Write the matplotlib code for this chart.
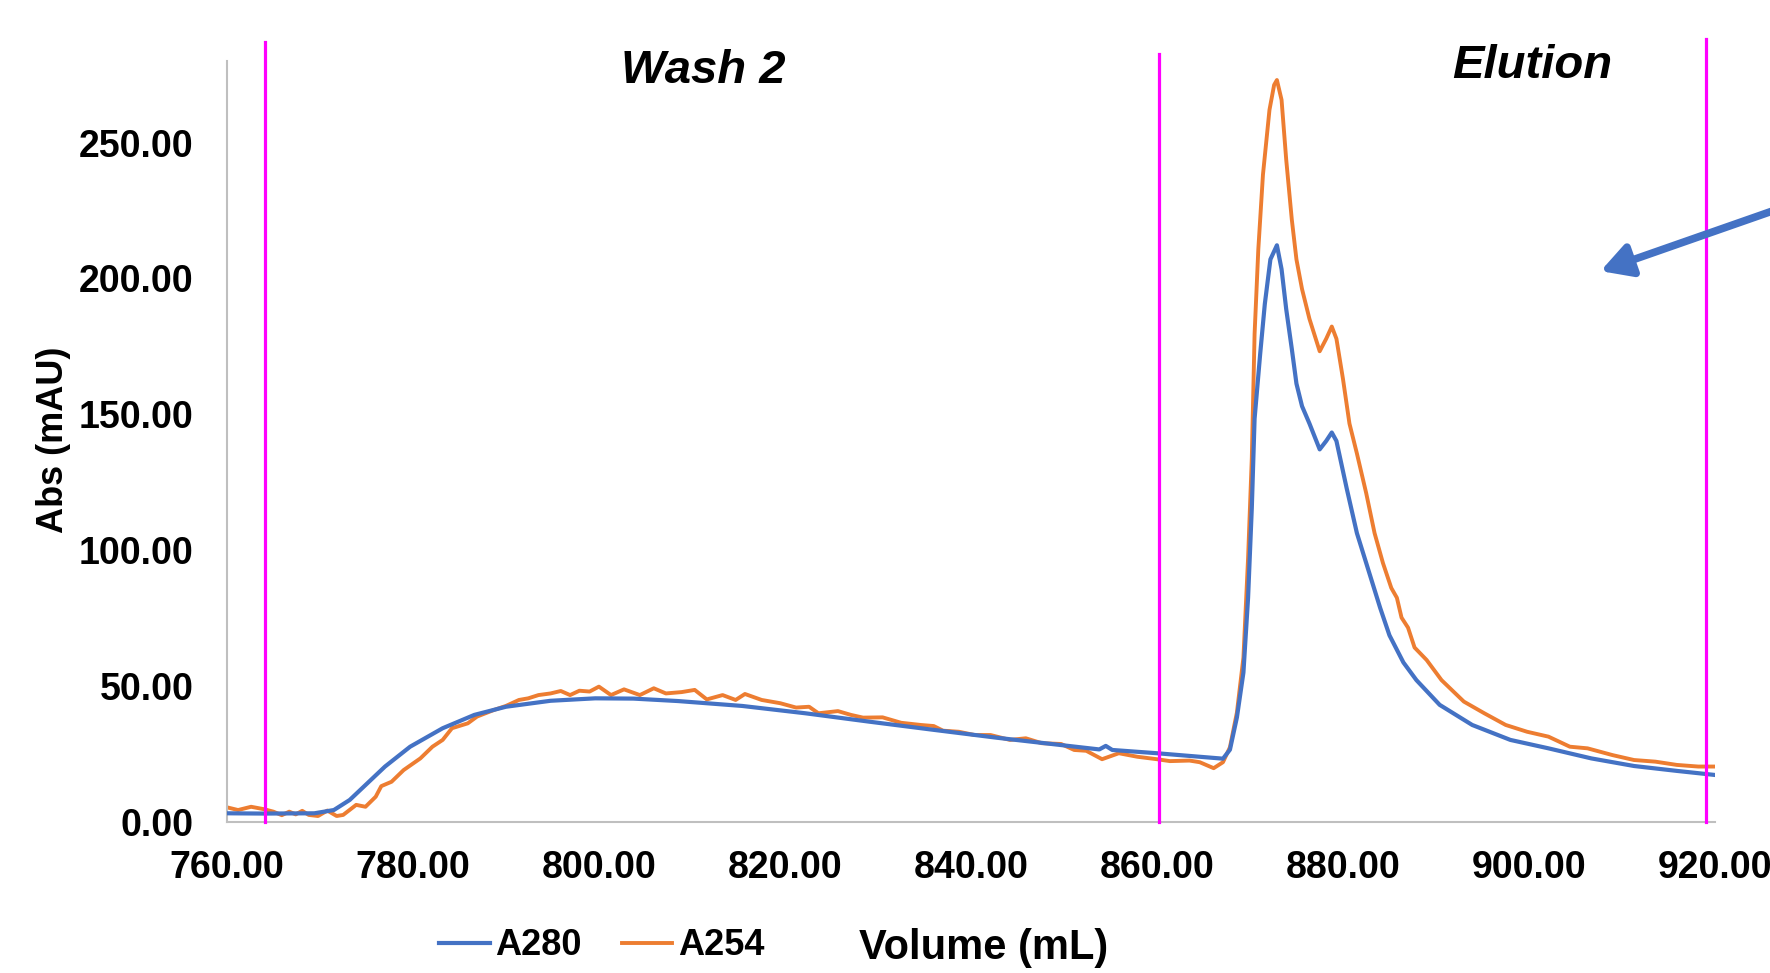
import numpy as np
import matplotlib.pyplot as plt
from matplotlib.patches import FancyArrowPatch

plt.rcParams['font.family'] = ['Liberation Sans', 'DejaVu Sans']
plt.rcParams['font.weight'] = 'bold'

# A280 trace (blue)
vol_a280 = [760.0, 764.0, 769.4, 771.5, 773.2, 774.9, 777.0, 779.7, 783.2, 786.6,
            790.0, 794.8, 799.6, 803.7, 808.5, 815.4, 822.2, 829.1, 836.0, 842.8,
            849.7, 853.8, 854.5, 855.2, 860.0, 864.6, 867.1, 867.85, 868.6, 869.3,
            869.8, 870.2, 870.5, 871.1, 871.6, 872.2, 872.9, 873.4, 873.9, 874.5,
            875.0, 875.6, 876.4, 877.5, 878.2, 878.8, 879.3, 880.4, 881.5, 882.5,
            884.0, 885.0, 886.5, 887.9, 890.4, 893.9, 898.0, 902.1, 906.7, 911.3,
            915.9, 920.0]
a280 = [3.2, 3.1, 3.2, 4.4, 8.1, 13.6, 20.4, 27.7, 34.5, 39.4,
        42.4, 44.6, 45.5, 45.4, 44.5, 42.7, 40.0, 36.9, 33.9, 31.0,
        28.3, 26.7, 28.0, 26.5, 25.3, 24.0, 23.3, 26.6, 38.5, 55.0,
        82.5, 115.5, 148.4, 172.2, 190.6, 207.0, 212.2, 203.4, 188.7, 174.1,
        161.3, 153.0, 146.6, 137.1, 140.2, 143.3, 140.2, 122.8, 106.3, 95.3,
        78.8, 68.7, 58.7, 52.2, 43.1, 35.7, 30.2, 27.1, 23.4, 20.6,
        18.8, 17.3]

# A254 trace (orange)
vol_a254 = [760.0, 761.2, 762.6, 764.0, 765.0, 765.9, 766.7, 767.4, 768.1, 768.8,
            769.8, 770.8, 771.8, 772.5, 773.9, 774.9, 776.0, 776.6, 777.7, 779.0,
            780.8, 782.1, 783.2, 784.2, 785.9, 786.9, 788.7, 790.0, 791.4, 792.4,
            793.5, 794.8, 795.9, 796.9, 797.9, 799.0, 800.0, 801.3, 802.7, 804.4,
            805.9, 807.2, 808.9, 810.3, 811.6, 813.3, 814.7, 815.7, 817.5, 819.5,
            821.2, 822.6, 823.6, 825.7, 827.1, 828.4, 830.5, 832.5, 834.6, 836.0,
            837.0, 838.7, 840.4, 842.1, 844.2, 845.9, 847.6, 849.7, 851.1, 852.4,
            854.1, 855.9, 857.9, 860.0, 861.4, 863.5, 864.6, 866.1, 867.1, 867.85,
            868.6, 869.3, 869.8, 870.2, 870.5, 870.9, 871.4, 872.1, 872.6, 872.9,
            873.4, 873.9, 874.5, 875.0, 875.6, 876.4, 877.5, 878.2, 878.8, 879.3,
            880.0, 880.7, 881.5, 882.5, 883.4, 884.3, 885.2, 885.8, 886.3, 887.0,
            887.7, 889.0, 890.6, 893.0, 895.2, 897.5, 899.8, 902.1, 904.4, 906.3,
            909.0, 911.3, 913.6, 915.9, 918.2, 920.0]
a254 = [5.4, 4.4, 5.6, 4.7, 3.8, 2.5, 3.8, 2.8, 4.1, 2.6,
        2.2, 4.2, 2.2, 2.6, 6.3, 5.6, 9.3, 13.2, 14.8, 19.1,
        23.4, 27.7, 30.2, 34.5, 36.3, 38.8, 41.2, 42.7, 44.9, 45.5,
        46.7, 47.3, 48.2, 46.7, 48.3, 48.0, 49.8, 46.7, 48.8, 46.7,
        49.2, 47.3, 47.8, 48.6, 45.1, 46.7, 44.9, 47.1, 44.9, 43.7,
        42.1, 42.4, 40.0, 40.8, 39.4, 38.4, 38.5, 36.5, 35.7, 35.3,
        33.6, 33.2, 32.0, 32.0, 30.2, 30.8, 29.0, 28.7, 26.5, 26.2,
        23.1, 25.3, 24.0, 23.1, 22.4, 22.6, 22.0, 19.8, 22.0, 27.5,
        40.3, 60.5, 97.1, 133.8, 179.6, 210.7, 238.2, 262.0, 271.2, 273.0,
        265.7, 243.7, 221.7, 207.0, 196.1, 185.1, 173.2, 177.8, 182.3, 177.8,
        163.1, 146.6, 135.6, 121.0, 106.3, 95.3, 86.1, 82.5, 75.2, 71.5,
        64.2, 59.6, 52.2, 44.3, 40.0, 35.7, 33.2, 31.4, 27.7, 27.1,
        24.6, 22.8, 22.2, 21.0, 20.4, 20.4]

# fraction boundaries (magenta markers) and their top ends
bound_x = [764.1, 860.2, 919.0]
bound_top = [287.0, 282.5, 288.0]

phase_labels = ['Wash 2', 'Elution']
phase_x = [811.2, 900.4]
phase_y = [276.5, 278.3]

xticks = [760, 780, 800, 820, 840, 860, 880, 900, 920]
yticks = [0, 50, 100, 150, 200, 250]

blue = '#4472C4'
orange = '#ED7D31'

fig = plt.figure(figsize=(17.7, 9.73), dpi=100)
ax = fig.add_axes([0.1282, 0.1552, 0.8407, 0.7821])

ax.plot(vol_a280, a280, color=blue, lw=3.0, label='A280', zorder=3,
        solid_joinstyle='round')
ax.plot(vol_a254, a254, color=orange, lw=2.8, label='A254', zorder=2,
        solid_joinstyle='round')

for bx, bt in zip(bound_x, bound_top):
    ax.plot([bx, bx], [0, bt], color='#FF00FF', lw=2.3, clip_on=False, zorder=4)

for lab, tx, ty in zip(phase_labels, phase_x, phase_y):
    ax.text(tx, ty, lab, ha='center', va='center', fontsize=34,
            fontweight='bold', fontstyle='italic', clip_on=False)

# arrow coming in from the right edge
arr = FancyArrowPatch((929.1, 228.3), (907.7, 202.7),
                      arrowstyle='-|>,head_length=18,head_width=10',
                      color=blue, lw=5.5, clip_on=False, zorder=5,
                      shrinkA=0, shrinkB=0, mutation_scale=1)
ax.add_patch(arr)

ax.set_xlim(760, 920)
ax.set_ylim(0, 280)
ax.set_xticks(xticks)
ax.set_yticks(yticks)
ax.set_xticklabels([f'{v:.2f}' for v in xticks])
ax.set_yticklabels([f'{v:.2f}' for v in yticks])
ax.tick_params(axis='both', length=0, labelsize=27)
ax.tick_params(axis='y', pad=24)
ax.tick_params(axis='x', pad=20)

for side in ['top', 'right']:
    ax.spines[side].set_visible(False)
for side in ['left', 'bottom']:
    ax.spines[side].set_color('#BFBFBF')
    ax.spines[side].set_linewidth(1.5)

fig.text(0.030, 0.548, 'Abs (mAU)', rotation=90, ha='center', va='center',
         fontsize=26, fontweight='bold')
fig.text(0.556, 0.026, 'Volume (mL)', ha='center', va='center',
         fontsize=30, fontweight='bold')

fig.legend(loc='center', bbox_to_anchor=(0.340, 0.028), ncol=2, frameon=False,
           fontsize=26, handlelength=1.4, handletextpad=0.15, columnspacing=1.1,
           borderpad=0, borderaxespad=0)

fig.savefig('out.png', dpi=100)
